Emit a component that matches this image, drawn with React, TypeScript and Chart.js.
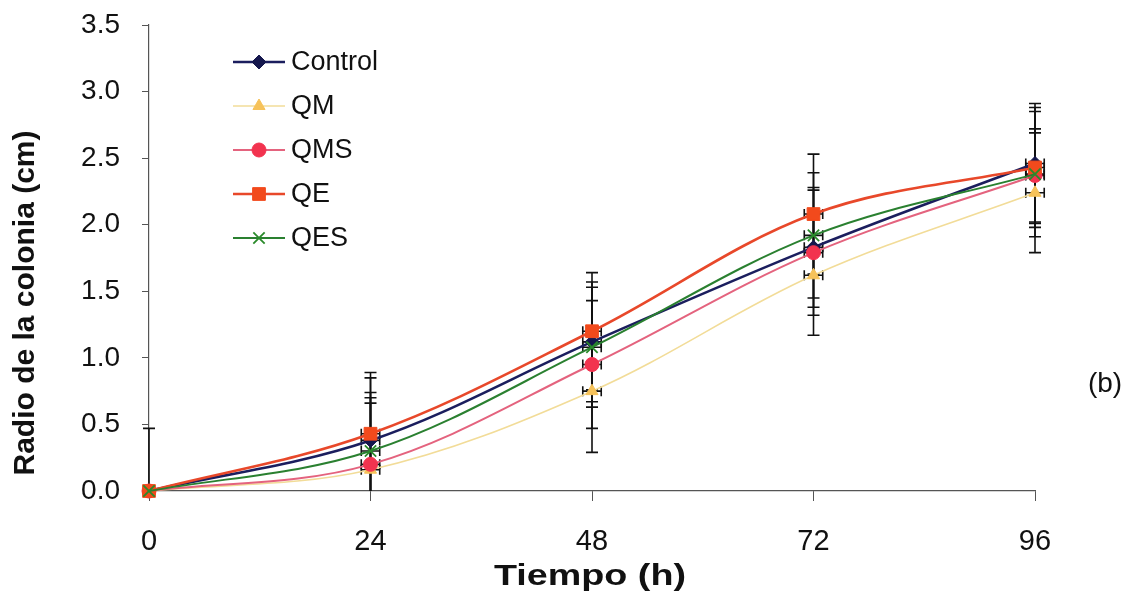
import React, { useEffect, useRef } from "react";
import { Chart, registerables } from "chart.js";
import { drawPoint } from "chart.js/helpers";

Chart.register(...registerables);

// Time points (h)
const hours = [0, 24, 48, 72, 96];

// Mean colony radius (cm)
const controlMean = [0, 0.38, 1.12, 1.83, 2.46];
const qmMean = [0, 0.16, 0.75, 1.62, 2.24];
const qmsMean = [0, 0.2, 0.95, 1.79, 2.37];
const qeMean = [0, 0.43, 1.2, 2.08, 2.43];
const qesMean = [0, 0.3, 1.08, 1.92, 2.38];

// Standard deviation of the radius (cm)
const controlErr = [0.47, 0.47, 0.45, 0.45, 0.45];
const qmErr = [0, 0.5, 0.46, 0.45, 0.45];
const qmsErr = [0, 0.5, 0.48, 0.47, 0.35];
const qeErr = [0, 0.46, 0.44, 0.45, 0.45];
const qesErr = [0, 0.44, 0.45, 0.47, 0.47];

// Horizontal uncertainty on the sampling time (h)
const timeErr = [0, 1, 1, 1, 1];

const seriesNames = ["Control", "QM", "QMS", "QE", "QES"];

const FONT = "'Liberation Sans', Arial, sans-serif";

type ErrDataset = {
  errorBars: number[];
};

const errorBarPlugin = {
  id: "errorBars",
  beforeDatasetsDraw(chart: any) {
    const { ctx, chartArea } = chart;
    const xs = chart.scales.x;
    const ys = chart.scales.y;
    ctx.save();
    ctx.strokeStyle = "#111";
    ctx.lineWidth = 1.6;
    chart.data.datasets.forEach((ds: any) => {
      const errs: number[] = (ds as ErrDataset).errorBars || [];
      ds.data.forEach((pt: any, i: number) => {
        const e = errs[i] || 0;
        const px = xs.getPixelForValue(pt.x);
        const py = ys.getPixelForValue(pt.y);
        if (e > 0) {
          const lo = pt.y - e;
          const yTop = ys.getPixelForValue(pt.y + e);
          const yBot = lo >= 0 ? ys.getPixelForValue(lo) : chartArea.bottom;
          ctx.beginPath();
          ctx.moveTo(px, yTop);
          ctx.lineTo(px, yBot);
          ctx.moveTo(px - 6, yTop);
          ctx.lineTo(px + 6, yTop);
          if (lo >= 0) {
            ctx.moveTo(px - 6, yBot);
            ctx.lineTo(px + 6, yBot);
          }
          ctx.stroke();
        }
        const te = timeErr[i] || 0;
        if (te > 0) {
          const x1 = xs.getPixelForValue(pt.x - te);
          const x2 = xs.getPixelForValue(pt.x + te);
          ctx.beginPath();
          ctx.moveTo(x1, py);
          ctx.lineTo(x2, py);
          ctx.moveTo(x1, py - 5);
          ctx.lineTo(x1, py + 5);
          ctx.moveTo(x2, py - 5);
          ctx.lineTo(x2, py + 5);
          ctx.stroke();
        }
      });
    });
    ctx.restore();
  },
};

const annotationPlugin = {
  id: "annotations",
  afterDraw(chart: any) {
    const { ctx, chartArea } = chart;
    ctx.save();

    // Legend: line sample with marker, then series name
    const rowY = [62, 106, 150, 194, 238];
    chart.data.datasets.forEach((ds: any, i: number) => {
      const y = rowY[i];
      ctx.strokeStyle = ds.borderColor;
      ctx.lineWidth = ds.borderWidth;
      ctx.beginPath();
      ctx.moveTo(233, y);
      ctx.lineTo(285, y);
      ctx.stroke();
      ctx.fillStyle = ds.pointBackgroundColor;
      ctx.strokeStyle = ds.pointBorderColor;
      ctx.lineWidth = ds.pointBorderWidth;
      drawPoint(
        ctx,
        {
          pointStyle: ds.pointStyle,
          rotation: ds.pointRotation || 0,
          radius: ds.pointRadius,
          borderWidth: ds.pointBorderWidth,
        },
        259,
        y
      );
      ctx.fillStyle = "#111";
      ctx.font = `27px ${FONT}`;
      ctx.textAlign = "left";
      ctx.textBaseline = "middle";
      ctx.fillText(ds.label, 291, y + 1);
    });

    // Axis titles
    ctx.fillStyle = "#111";
    ctx.font = `bold 29px ${FONT}`;
    ctx.textAlign = "center";
    ctx.textBaseline = "middle";
    ctx.save();
    ctx.translate((chartArea.left + chartArea.right) / 2 - 2, 577);
    ctx.scale(1.3, 1);
    ctx.fillText("Tiempo (h)", 0, 0);
    ctx.restore();
    ctx.save();
    ctx.font = `bold 30px ${FONT}`;
    ctx.translate(26, 303);
    ctx.rotate(-Math.PI / 2);
    ctx.fillText("Radio de la colonia (cm)", 0, 0);
    ctx.restore();

    // Panel tag
    ctx.font = `28px ${FONT}`;
    ctx.textAlign = "center";
    ctx.fillText("(b)", 1105, 384);
    ctx.restore();
  },
};

function toPoints(values: number[]) {
  return hours.map((h, i) => ({ x: h, y: values[i] }));
}

export default function App() {
  const canvasRef = useRef<HTMLCanvasElement | null>(null);

  useEffect(() => {
    if (!canvasRef.current) return;
    const means = [controlMean, qmMean, qmsMean, qeMean, qesMean];
    const errs = [controlErr, qmErr, qmsErr, qeErr, qesErr];
    const lineColors = ["#1b1e5e", "#f2dc98", "#e4637e", "#e8482a", "#2a8030"];
    const markerFill = ["#15174d", "#f6c25a", "#f2334f", "#f24a1c", "#2a8a2a"];
    const styles = ["rectRot", "triangle", "circle", "rect", "crossRot"];
    const radii = [7, 7, 7, 9, 8];
    const widths = [2.6, 1.6, 2, 2.6, 2];
    const order = [5, 4, 3, 2, 1];

    const datasets = seriesNames.map((name, i) => ({
      label: name,
      data: toPoints(means[i]),
      errorBars: errs[i],
      borderColor: lineColors[i],
      borderWidth: widths[i],
      pointStyle: styles[i],
      pointRadius: radii[i],
      pointBackgroundColor: markerFill[i],
      pointBorderColor: markerFill[i],
      pointBorderWidth: styles[i] === "crossRot" ? 1.8 : 1,
      tension: 0.35,
      fill: false,
      clip: false as any,
      order: order[i],
    }));

    const chart = new Chart(canvasRef.current, {
      type: "line",
      data: { datasets: datasets as any },
      options: {
        animation: false,
        responsive: false,
        devicePixelRatio: 1,
        layout: { padding: { left: 0, top: 25, right: 97, bottom: 0 } },
        plugins: {
          legend: { display: false },
          tooltip: { enabled: false },
        },
        scales: {
          x: {
            type: "linear",
            min: 0,
            max: 96,
            afterFit: (s: any) => {
              s.height = 105;
              s.paddingLeft = 0;
              s.paddingRight = 0;
            },
            ticks: {
              stepSize: 24,
              color: "#111",
              padding: 24,
              font: { family: FONT, size: 29 },
            },
            grid: {
              display: true,
              drawOnChartArea: false,
              drawTicks: true,
              tickLength: 10,
              color: "#555",
            },
            border: { display: true, color: "#555", width: 1.2 },
          },
          y: {
            type: "linear",
            min: 0,
            max: 3.5,
            afterFit: (s: any) => {
              s.width = 149;
              s.paddingTop = 0;
              s.paddingBottom = 0;
            },
            ticks: {
              stepSize: 0.5,
              color: "#111",
              padding: 22,
              font: { family: FONT, size: 28 },
              callback: (v: any) => Number(v).toFixed(1),
            },
            grid: {
              display: true,
              drawOnChartArea: false,
              drawTicks: true,
              tickLength: 7,
              color: "#555",
            },
            border: { display: true, color: "#555", width: 1.2 },
          },
        },
      },
      plugins: [errorBarPlugin, annotationPlugin],
    });

    return () => chart.destroy();
  }, []);

  return (
    <div
      style={{
        position: "fixed",
        left: 0,
        top: 0,
        width: 1132,
        height: 596,
        background: "#fff",
      }}
    >
      <canvas ref={canvasRef} width={1132} height={596} />
    </div>
  );
}
